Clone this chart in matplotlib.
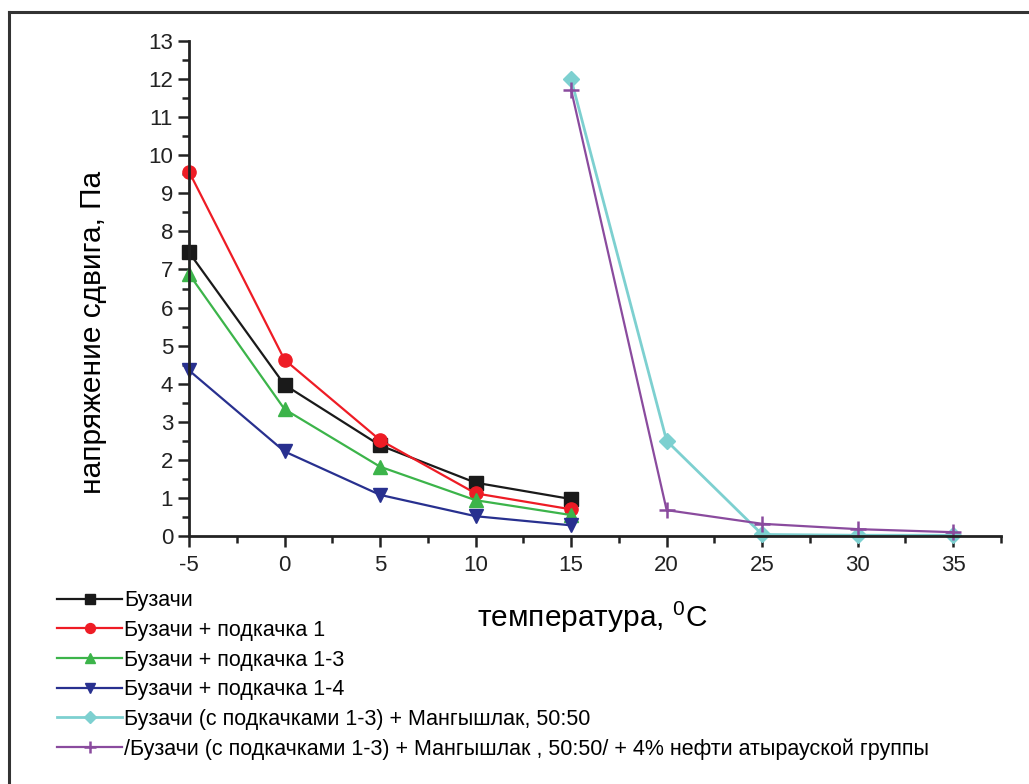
import numpy as np
import matplotlib
matplotlib.use('Agg')
import matplotlib.pyplot as plt
from matplotlib.lines import Line2D
from matplotlib.ticker import MultipleLocator

plt.rcParams['font.family'] = ['Liberation Sans', 'DejaVu Sans']
plt.rcParams['axes.unicode_minus'] = False

# data
t_low = [-5, 0, 5, 10, 15]
buzachi = [7.45, 3.97, 2.38, 1.40, 0.97]
buzachi_p1 = [9.57, 4.63, 2.52, 1.12, 0.70]
buzachi_p13 = [6.88, 3.33, 1.82, 0.94, 0.55]
buzachi_p14 = [4.35, 2.22, 1.08, 0.52, 0.28]

t_high = [15, 20, 25, 30, 35]
mix_5050 = [12.0, 2.5, 0.04, 0.02, 0.02]
mix_5050_atyrau = [11.72, 0.68, 0.32, 0.18, 0.10]

labels = ['Бузачи',
          'Бузачи + подкачка 1',
          'Бузачи + подкачка 1-3',
          'Бузачи + подкачка 1-4',
          'Бузачи (с подкачками 1-3) + Мангышлак, 50:50',
          '/Бузачи (с подкачками 1-3) + Мангышлак , 50:50/ + 4% нефти атырауской группы']

fig = plt.figure(figsize=(10.29, 7.84), dpi=100)
ax = fig.add_axes([189 / 1029, 1 - 536 / 784, (1001 - 189) / 1029, (536 - 41) / 784])

lw = 1.6
ax.plot(t_low, buzachi, '-s', color='#1a1a1a', lw=lw, ms=9.5, label=labels[0])
ax.plot(t_low, buzachi_p1, '-o', color='#ee1c25', lw=lw, ms=9.5, label=labels[1])
ax.plot(t_low, buzachi_p13, '-^', color='#3cb44a', lw=lw, ms=10.5, label=labels[2])
ax.plot(t_low, buzachi_p14, '-v', color='#28308f', lw=lw, ms=10.5, label=labels[3])
ax.plot(t_high, mix_5050, '-D', color='#7dd0d0', lw=2.0, ms=8.5, label=labels[4])
ax.plot(t_high, mix_5050_atyrau, '-+', color='#8a4b9e', lw=lw, ms=12, mew=1.8, label=labels[5])

ax.set_xlim(-5, 37.5)
ax.set_ylim(0, 13)
ax.xaxis.set_major_locator(MultipleLocator(5))
ax.xaxis.set_minor_locator(MultipleLocator(2.5))
ax.yaxis.set_major_locator(MultipleLocator(1))
ax.yaxis.set_minor_locator(MultipleLocator(0.5))
ax.spines['top'].set_visible(False)
ax.spines['right'].set_visible(False)
for s in ['left', 'bottom']:
    ax.spines[s].set_linewidth(2)
    ax.spines[s].set_color('#222222')
ax.tick_params(which='major', direction='out', length=8, width=1.8, labelsize=16, colors='#222222')
ax.tick_params(which='minor', direction='out', length=5, width=1.8, colors='#222222')
ax.tick_params(axis='x', pad=6)
for ln in ax.lines:
    ln.set_clip_on(False)

fig.text(93 / 1029, 1 - 332 / 784, 'напряжение сдвига, Па', fontsize=21.5,
         rotation=90, ha='center', va='center')
fig.text(592 / 1029, 1 - 617 / 784, r'температура, $^{\mathregular{0}}$C',
         fontsize=21.5, ha='center', va='center')

fig.legend(loc='upper left', bbox_to_anchor=(38 / 1029, 1 - 571 / 784),
           frameon=False, handlelength=3.0, handletextpad=0.1,
           labelspacing=0.4, markerscale=0.75, prop={'size': 15.5})

# outer frame: top and left edge only
fig.add_artist(Line2D([9 / 1029, 1], [1 - 12 / 784, 1 - 12 / 784], color='#333333', lw=2.2))
fig.add_artist(Line2D([9 / 1029, 9 / 1029], [0, 1 - 12 / 784], color='#333333', lw=2.2))

fig.savefig('out.png', dpi=100)
